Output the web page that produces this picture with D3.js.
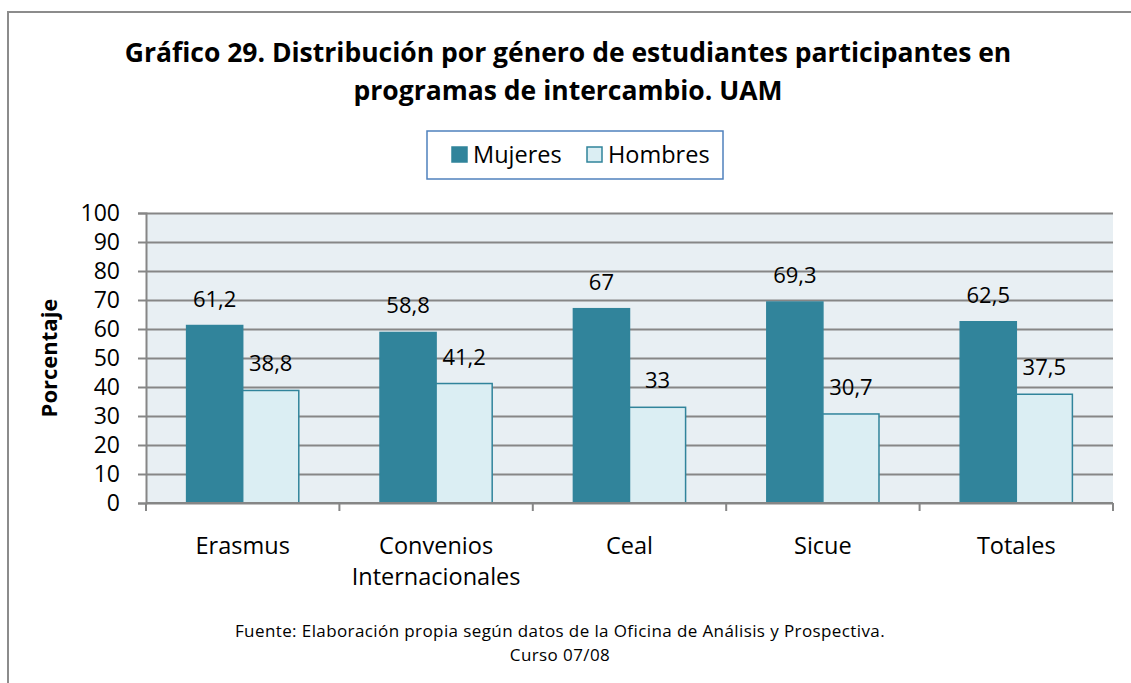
<!DOCTYPE html>
<html>
<head>
<meta charset="utf-8">
<script src="https://cdn.jsdelivr.net/npm/d3@7"></script>
<style>
  body { margin: 0; background: #fff; }
  text { font-family: "Open Sans", "Noto Sans", sans-serif; fill: #000; }
</style>
</head>
<body>
<div class="svgContainer"></div>
<script>
const categories = [['Erasmus'], ['Convenios', 'Internacionales'], ['Ceal'], ['Sicue'], ['Totales']];
const seriesNames = ['Mujeres', 'Hombres'];
const mujeres = [61.2, 58.8, 67, 69.3, 62.5];
const hombres = [38.8, 41.2, 33, 30.7, 37.5];
const yTicks = [0, 10, 20, 30, 40, 50, 60, 70, 80, 90, 100];
const titleLines = ['Gráfico 29. Distribución por género de estudiantes participantes en',
  'programas de intercambio. UAM'];
const sourceLines = ['Fuente: Elaboración propia según datos de la Oficina de Análisis y Prospectiva.',
  'Curso 07/08'];

const width = 1131;
const height = 683;
const plot = {left: 146, right: 1113, top: 213, bottom: 503};
const colors = {Mujeres: '#31849b', Hombres: '#dbeef3'};
const gridColor = '#868686';

const fmt = v => String(v).replace('.', ',');

const svg = d3.select('.svgContainer').append('svg')
  .attr('width', width)
  .attr('height', height);

// outer frame (only top and left edges visible)
svg.append('path')
  .attr('d', 'M8,' + height + ' V12 H' + width)
  .attr('fill', 'none')
  .attr('stroke', '#8c8c8c')
  .attr('stroke-width', 2);

// title
svg.append('g').selectAll('text')
  .data(titleLines)
  .enter()
  .append('text')
  .attr('x', 568)
  .attr('y', (d, i) => 62 + i * 38)
  .attr('text-anchor', 'middle')
  .style('font-size', '26.5px')
  .style('font-weight', 'bold')
  .text(d => d);

// legend
const legend = svg.append('g');
legend.append('rect')
  .attr('x', 427).attr('y', 131)
  .attr('width', 296).attr('height', 48)
  .attr('fill', '#fff')
  .attr('stroke', '#4f81bd')
  .attr('stroke-width', 1.5);
const legendX = [452, 587];
seriesNames.forEach((name, i) => {
  legend.append('rect')
    .attr('x', legendX[i]).attr('y', 147)
    .attr('width', 15).attr('height', 15)
    .attr('fill', colors[name])
    .attr('stroke', '#31849b')
    .attr('stroke-width', 1.5);
  legend.append('text')
    .attr('x', legendX[i] + 21).attr('y', 163)
    .style('font-size', '23.5px')
    .text(name);
});

// scales
const x0 = d3.scaleBand()
  .domain(d3.range(categories.length))
  .range([plot.left, plot.right])
  .paddingInner(0.42)
  .paddingOuter(0.21);

const x1 = d3.scaleBand()
  .domain(seriesNames)
  .range([0, x0.bandwidth()]);

const y = d3.scaleLinear()
  .domain([0, 100])
  .range([plot.bottom, plot.top]);

// plot background
svg.append('rect')
  .attr('x', plot.left).attr('y', plot.top)
  .attr('width', plot.right - plot.left)
  .attr('height', plot.bottom - plot.top)
  .attr('fill', '#e8eff3');

// y axis with grid
const yAxis = svg.append('g')
  .attr('transform', 'translate(' + plot.left + ',0)')
  .call(d3.axisLeft(y).tickValues(yTicks).tickSize(8).tickPadding(18));
yAxis.select('.domain').attr('stroke', gridColor).attr('stroke-width', 2);
yAxis.selectAll('.tick line').attr('stroke', gridColor).attr('stroke-width', 2);
yAxis.selectAll('.tick text')
  .style('font-size', '23px')
  .attr('fill', '#000');
yAxis.selectAll('.tick')
  .append('line')
  .attr('x1', 0)
  .attr('x2', plot.right - plot.left)
  .attr('stroke', gridColor)
  .attr('stroke-width', 2);

svg.append('text')
  .attr('transform', 'translate(57,' + ((plot.top + plot.bottom) / 2) + ') rotate(-90)')
  .attr('text-anchor', 'middle')
  .style('font-size', '22px')
  .style('font-weight', 'bold')
  .text('Porcentaje');

// bars
const data = [];
categories.forEach((c, i) => {
  data.push({cat: i, series: 'Mujeres', value: mujeres[i]});
  data.push({cat: i, series: 'Hombres', value: hombres[i]});
});

const bars = svg.append('g');
bars.selectAll('rect.bar')
  .data(data)
  .enter()
  .append('rect')
  .attr('class', 'bar')
  .attr('x', d => x0(d.cat) + x1(d.series))
  .attr('y', d => y(d.value))
  .attr('width', x1.bandwidth())
  .attr('height', d => y(0) - y(d.value))
  .attr('fill', d => colors[d.series])
  .attr('stroke', '#31849b')
  .attr('stroke-width', 1.5);

bars.selectAll('text.label')
  .data(data)
  .enter()
  .append('text')
  .attr('class', 'label')
  .attr('x', d => x0(d.cat) + x1(d.series) + x1.bandwidth() / 2)
  .attr('y', d => y(d.value) - 19)
  .attr('text-anchor', 'middle')
  .style('font-size', '22px')
  .text(d => fmt(d.value));

// x axis line and category separators
svg.append('line')
  .attr('x1', plot.left).attr('x2', plot.right)
  .attr('y1', plot.bottom).attr('y2', plot.bottom)
  .attr('stroke', gridColor)
  .attr('stroke-width', 2);

const step = x0.step();
svg.append('g').selectAll('line')
  .data(d3.range(categories.length + 1))
  .enter()
  .append('line')
  .attr('x1', i => plot.left + i * step)
  .attr('x2', i => plot.left + i * step)
  .attr('y1', plot.bottom)
  .attr('y2', plot.bottom + 8)
  .attr('stroke', gridColor)
  .attr('stroke-width', 2);

const catLabels = svg.append('g').selectAll('text')
  .data(categories)
  .enter()
  .append('text')
  .attr('text-anchor', 'middle')
  .style('font-size', '23.5px');
catLabels.selectAll('tspan')
  .data((d, i) => d.map(line => ({line: line, i: i})))
  .enter()
  .append('tspan')
  .attr('x', d => x0(d.i) + x0.bandwidth() / 2)
  .attr('y', (d, j) => 554 + j * 31)
  .text(d => d.line);

// source note
svg.append('g').selectAll('text')
  .data(sourceLines)
  .enter()
  .append('text')
  .attr('x', 560)
  .attr('y', (d, i) => 637 + i * 23.5)
  .attr('text-anchor', 'middle')
  .style('font-size', '17px')
  .style('letter-spacing', '0.4px')
  .text(d => d);
</script>
</body>
</html>
